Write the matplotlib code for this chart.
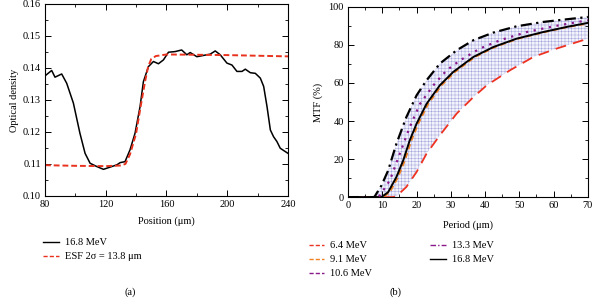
import numpy as np
import matplotlib.pyplot as plt
from matplotlib.lines import Line2D
from matplotlib.ticker import MultipleLocator

plt.rcParams['font.family'] = ['Liberation Serif', 'DejaVu Serif']
plt.rcParams['font.size'] = 7.5
plt.rcParams['hatch.linewidth'] = 0.35
plt.rcParams['hatch.color'] = '#a4a4dc'

# (a) optical density profile
pos = [80, 84.4, 86.6, 91, 94.3, 98.7, 103, 106.4, 109.7, 114, 118.5, 122.9, 127.3,
       129.5, 132.7, 136, 139.3, 142.6, 144.8, 148.1, 151.4, 154.7, 158, 161.3, 165.7,
       170, 173.4, 175.6, 180, 184.4, 188.8, 192.1, 195.4, 199.8, 203.1, 206.4, 209.7,
       211.9, 215.2, 218.5, 221.8, 224, 226.2, 228.4, 230.5, 232.7, 234.9, 237.1, 240]
od = [0.1375, 0.1392, 0.1371, 0.1381, 0.1352, 0.129, 0.1196, 0.1133, 0.1102, 0.1092,
      0.1083, 0.109, 0.1097, 0.1104, 0.1107, 0.1144, 0.1196, 0.1279, 0.1357, 0.1404,
      0.142, 0.1413, 0.1425, 0.1449, 0.1451, 0.1456, 0.1441, 0.1448, 0.1435, 0.1439,
      0.1443, 0.1453, 0.1441, 0.1415, 0.1409, 0.1389, 0.1389, 0.1396, 0.1385, 0.1383,
      0.1368, 0.1342, 0.1279, 0.1206, 0.1185, 0.117, 0.1149, 0.1142, 0.1133]
esf_pos = [80, 100, 120, 130, 133, 136, 140, 143, 146, 148, 150, 153, 160, 180, 200, 220, 240]
esf_od = [0.1096, 0.1094, 0.1093, 0.1095, 0.110, 0.113, 0.1195, 0.128, 0.136, 0.1405,
          0.1428, 0.1437, 0.1442, 0.1441, 0.1440, 0.1438, 0.1436]

# (b) MTF curves
p_64 = [0, 13, 14.1, 17, 20, 22.9, 26.8, 31.7, 36.6, 40.5, 47.3, 54.1, 60.9, 70]
m_64 = [0, 0, 0.4, 5.3, 13.2, 22.8, 32.5, 43.9, 52.6, 58.8, 66.7, 73.7, 78.1, 83.3]
p_91 = [0, 10.2, 12.2, 14.6, 16.6, 18.5, 20.5, 23.4, 27.3, 31.2, 37.1, 42.9, 49.7, 57.5, 64.4, 70]
m_91 = [0, 0, 2.6, 10.5, 19.3, 29.8, 38.6, 49, 58.8, 65.8, 73.7, 78.9, 83.3, 86.8, 89.5, 91.2]
p_106 = [0, 9.75, 11.7, 14.1, 16.1, 18, 20, 22.9, 26.8, 30.7, 36.6, 42.4, 49.2, 57, 63.9, 70]
m_106 = [0, 0, 2.6, 10.5, 19.3, 29.8, 38.6, 49, 58.8, 65.8, 73.7, 78.9, 83.3, 86.8, 89.5, 91.6]
p_133 = [0, 8.8, 9.3, 12.2, 15.1, 18, 21, 24.9, 28.8, 32.7, 38.5, 44.4, 52.2, 60, 70]
m_133 = [0, 0, 0.9, 8.8, 22.8, 36.8, 49, 58.8, 66.7, 71.9, 78.1, 82.5, 86.8, 89.8, 93]
p_168 = [0, 7.5, 7.8, 9.75, 11.7, 14.1, 17, 20, 22.9, 26.8, 31.7, 36.6, 42.4, 49.2, 57, 63.9, 70]
m_168 = [0, 0, 0.4, 6.1, 14, 28, 42, 53.5, 61.4, 70.2, 77.2, 82.5, 86.5, 89.8, 92.1, 93.5, 94.7]

labels_b = ['6.4 MeV', '9.1 MeV', '10.6 MeV', '13.3 MeV', '16.8 MeV']

fig = plt.figure(figsize=(5.95, 3.0), dpi=100)
ax1 = fig.add_axes([0.0756, 0.347, 0.4084, 0.64])
ax2 = fig.add_axes([0.585, 0.343, 0.403, 0.634])

ax1.plot(pos, od, color='black', lw=1.1)
ax1.plot(esf_pos, esf_od, color='#e8321e', lw=1.4, ls=(0, (3, 1.5)))
ax1.set_xlim(80, 240)
ax1.set_ylim(0.10, 0.16)
ax1.xaxis.set_major_locator(MultipleLocator(40))
ax1.xaxis.set_minor_locator(MultipleLocator(20))
ax1.yaxis.set_major_locator(MultipleLocator(0.01))
ax1.yaxis.set_minor_locator(MultipleLocator(0.005))
ax1.yaxis.set_major_formatter(plt.FormatStrFormatter('%.2f'))
ax1.set_xlabel('Position (μm)', labelpad=5)
ax1.set_ylabel('Optical density', labelpad=3)

# shaded band between lowest and highest MTF curves
xx = np.linspace(0, 70, 300)
lo = np.interp(xx, p_64, m_64)
hi = np.interp(xx, p_168, m_168)
ax2.fill_between(xx, lo, hi, facecolor='#f3f3fc', hatch='+++++', lw=0)

ax2.plot(p_64, m_64, color='#ee3322', lw=1.3, ls=(0, (6, 4)))
ax2.plot(p_91, m_91, color='#f08020', lw=1.3, ls=(0, (3, 2)))
ax2.plot(p_106, m_106, color='black', lw=1.4)
ax2.plot(p_133, m_133, color='#8a1a8a', lw=1.6, ls=(0, (1, 2.5)))
ax2.plot(p_168, m_168, color='black', lw=1.6, ls=(0, (5, 2, 1, 2)))
ax2.set_xlim(0, 70)
ax2.set_ylim(0, 100)
ax2.xaxis.set_major_locator(MultipleLocator(10))
ax2.xaxis.set_minor_locator(MultipleLocator(5))
ax2.yaxis.set_major_locator(MultipleLocator(20))
ax2.yaxis.set_minor_locator(MultipleLocator(10))
ax2.set_xlabel('Period (μm)', labelpad=7)
ax2.set_ylabel('MTF (%)', labelpad=4)

for ax in (ax1, ax2):
    ax.tick_params(which='both', direction='in', top=True, right=True, pad=3)
    ax.tick_params(which='major', length=4, width=0.7)
    ax.tick_params(which='minor', length=2, width=0.6)
    for s in ax.spines.values():
        s.set_linewidth(0.8)

h_a = [Line2D([], [], color='black', lw=1),
       Line2D([], [], color='#e8321e', lw=1, ls=(0, (3, 1.5)))]
fig.legend(h_a, ['16.8 MeV', 'ESF 2σ = 13.8 μm'], loc='upper left',
           bbox_to_anchor=(0.066, 0.22), frameon=False, handlelength=1.5,
           handletextpad=0.55, labelspacing=0.45, borderaxespad=0)

h_b = [Line2D([], [], color='#ee3322', lw=1, ls=(0, (3, 1.5))),
       Line2D([], [], color='#f08020', lw=1, ls=(0, (3, 1.5))),
       Line2D([], [], color='#8a1a8a', lw=1, ls=(0, (3, 1.5))),
       Line2D([], [], color='#8a1a8a', lw=1, ls=(0, (4, 1.5, 1, 1.5))),
       Line2D([], [], color='black', lw=1)]
fig.legend(h_b, labels_b, loc='upper left', ncol=2, bbox_to_anchor=(0.512, 0.21),
           frameon=False, handlelength=1.5, handletextpad=0.55, labelspacing=0.45,
           columnspacing=5.6, borderaxespad=0)

fig.text(0.219, 0.018, '(a)', ha='center')
fig.text(0.664, 0.018, '(b)', ha='center')

fig.savefig('out.png', dpi=100)
